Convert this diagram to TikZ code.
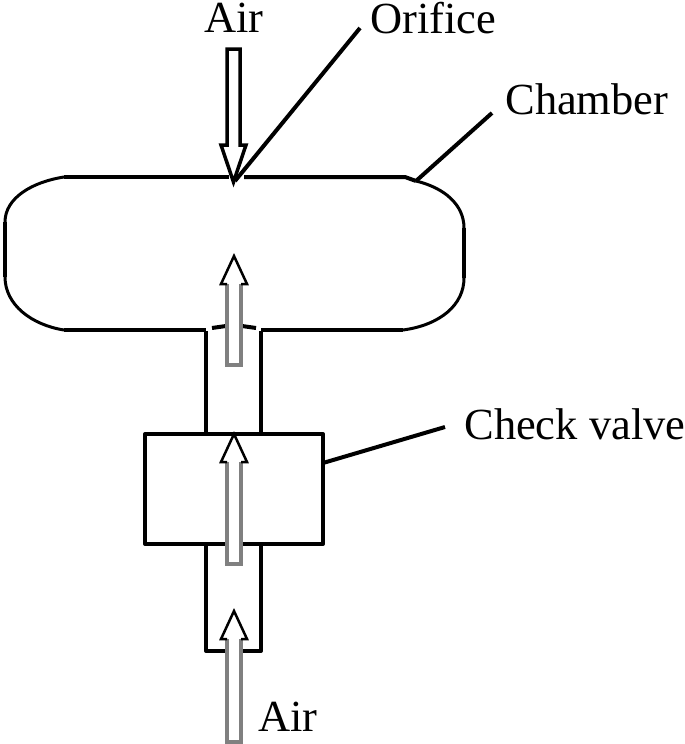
\documentclass[tikz,border=0pt]{standalone}
\usepackage{fontspec}
\setmainfont{Liberation Serif}

\tikzset{
    wall/.style={line width=0.08cm, line join=round},
    curve/.style={line width=0.06cm, line join=round},
    vessel/.style={draw, wall, outer sep=0pt, inner sep=0pt},
    lbl/.style={font=\fontsize{25.3}{30}\selectfont, inner sep=0pt},
    shaftline/.style={line width=0.065cm, draw=black!50},
    headline/.style={line width=0.05cm, line join=miter, draw=black},
}

% #1 x, #2 tip y, #3 tail y (pixels of the picture)
\newcommand{\uparrowair}[3]{
    \fill[white] (#1-7,#3) -- (#1-7,#2+28) -- (#1-13,#2+28) -- (#1,#2) -- (#1+13,#2+28) -- (#1+7,#2+28) -- (#1+7,#3) -- cycle;
    \draw[shaftline] (#1-7,#2+28) -- (#1-7,#3) -- (#1+7,#3) -- (#1+7,#2+28);
    \draw[headline] (#1-7,#2+28) -- (#1-13,#2+28) -- (#1,#2) -- (#1+13,#2+28) -- (#1+7,#2+28);
}

\begin{document}
\begin{tikzpicture}[x=0.02cm,y=-0.02cm]
    \useasboundingbox (0,0) rectangle (685,744);

    \coordinate (chamberjoin) at (416,181);

    % chamber wall, open at the orifice and at the pipe
    \draw[wall] (229,177) -- (64,177);
    \draw[curve] (64,177) .. controls (32,182) and (5,198) .. (5,222);
    \draw[wall] (5,222) -- (5,277);
    \draw[curve] (5,277) .. controls (5,305) and (32,325) .. (64,330);
    \draw[wall] (64,330) -- (206,330);
    \draw[wall] (212,328) -- (226,326);
    \draw[wall] (242,326) -- (256,328);
    \draw[wall] (261,330) -- (403,330);
    \draw[curve] (403,330) .. controls (440,325) and (464,305) .. (464,278);
    \draw[wall] (464,278) -- (464,228);
    \draw[curve] (464,228) .. controls (464,205) and (445,188) .. (chamberjoin);
    \draw[wall] (chamberjoin) -- (405,177) -- (244,177);

    \node[vessel, minimum width=3.56cm, minimum height=2.2cm] (valve) at (234,489) {};

    \coordinate (pipetopl) at (206,331);
    \coordinate (pipetopr) at (261,331);
    \coordinate (pipebotl) at (206,651);
    \coordinate (pipebotr) at (261,651);

    \draw[wall] (pipetopl) -- (pipetopl |- valve.north);
    \draw[wall] (pipetopr) -- (pipetopr |- valve.north);
    \draw[wall] (pipebotl |- valve.south) -- (pipebotl) -- (pipebotr) -- (pipebotr |- valve.south);

    \node[lbl] (airin) at (234,18) {Air};
    \node[lbl, anchor=west] (orifice) at (370,18) {Orifice};
    \node[lbl, anchor=west] (chamberlbl) at (505,99) {Chamber};
    \node[lbl, anchor=west] (valvelbl) at (464,424) {Check valve};
    \node[lbl, anchor=west] (airout) at (258,717) {Air};

    \coordinate (orificetip) at (235,181);
    \coordinate (orificeend) at (360,28);
    \coordinate (chamberend) at (492,113);
    \coordinate (valveend) at (445,427);

    \draw[wall] (orificetip) -- (orificeend);
    \draw[wall] (chamberjoin) -- (chamberend);
    \draw[wall] (valve.east |- 0,463) -- (valveend);

    \draw[headline, line width=0.07cm, fill=white] (227,49) -- (240,49) -- (240,145) -- (246,145) -- (233.5,182) -- (221,145) -- (227,145) -- cycle;

    \uparrowair{234}{256}{365}
    \uparrowair{234}{434}{564}
    \uparrowair{234}{611}{742}
\end{tikzpicture}
\end{document}
